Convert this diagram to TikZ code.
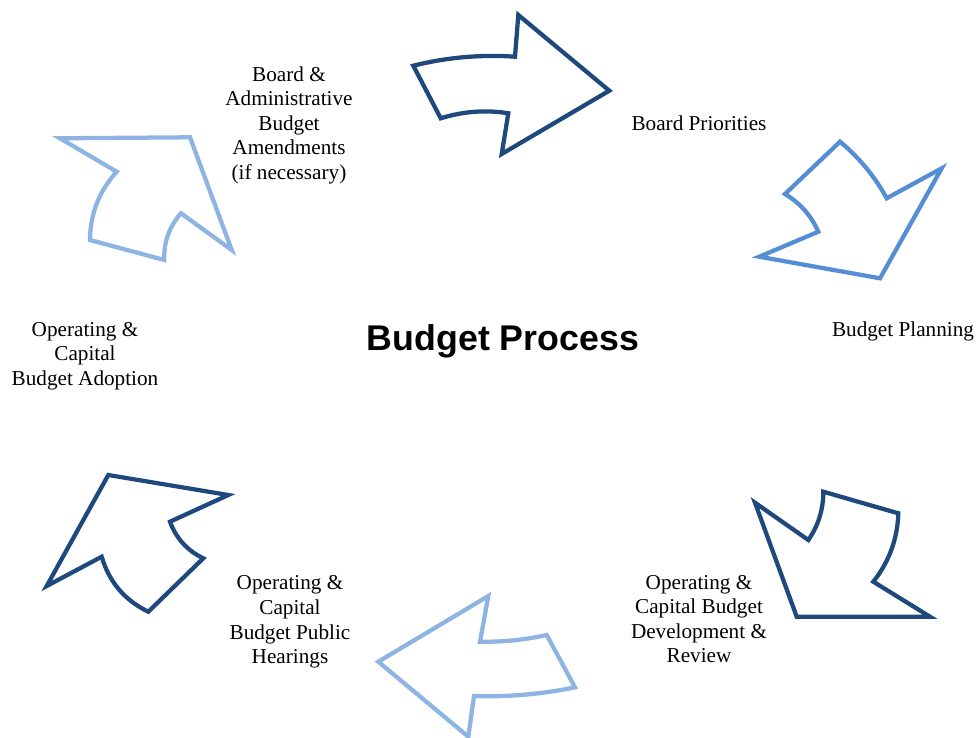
\documentclass[tikz,border=0pt]{standalone}
\usepackage{fontspec}
\usetikzlibrary{calc}
\setmainfont{Liberation Serif}
\newfontfamily\headfont{Liberation Sans}
\definecolor{darkb}{HTML}{1F497D}
\definecolor{midb}{HTML}{558ED5}
\definecolor{lightb}{HTML}{8EB4E3}
% quadratic curve helper: \qc{A}{C}{B} draws from A (current point) to B with control C
\newcommand{\qc}[3]{.. controls ($(#1)!0.6667!(#2)$) and ($(#3)!0.6667!(#2)$) .. (#3)}
\begin{document}
\begin{tikzpicture}[x=0.75pt,y=-0.75pt,
  arr/.style={line width=3.2pt, line join=miter, fill=white},
  lbl/.style={align=center, inner sep=0pt, font=\fontsize{15.9}{18.4}\selectfont}]
\useasboundingbox (0,0) rectangle (977,738);

% arrow 1 (top, dark)
\draw[arr, draw=darkb] (413.3,65.7) \qc{413.3,65.7}{463.4,53.2}{515,56.7}
  -- (518.3,15) -- (609.3,90.7) -- (501.7,154) -- (508.3,113.3)
  \qc{508.3,113.3}{474.5,107.8}{440.7,118.3} -- cycle;

% arrow 2 (right, medium)
\draw[arr, draw=midb] (840,141.7) \qc{840,141.7}{868.7,165.5}{886.7,198.3}
  -- (941.7,168.3) -- (880,278.3) -- (759.3,256.7) -- (818.3,231.7)
  \qc{818.3,231.7}{807.6,207.6}{785,194} -- cycle;

% arrow 3 (bottom right, dark)
\draw[arr, draw=darkb] (755,502.7) -- (808.3,540)
  \qc{808.3,540}{823.4,518.2}{823.3,491.7} -- (898.3,513.3)
  \qc{898.3,513.3}{897.1,551.6}{873.3,581.7} -- (930,616.7)
  -- (796.7,616.7) -- cycle;

% arrow 4 (bottom, light)
\draw[arr, draw=lightb] (378.3,661.7) -- (488.3,596) -- (480,641.7)
  \qc{480,641.7}{513.4,642.3}{546.7,635} -- (575,687.3)
  \qc{575,687.3}{524.5,697.7}{474,696} -- (468.3,736.7) -- cycle;

% arrow 5 (bottom left, dark)
\draw[arr, draw=darkb] (108.3,475) -- (228.3,495) -- (170,521.7)
  \qc{170,521.7}{179.2,546.7}{203.3,558.3} -- (148.3,611.7)
  \qc{148.3,611.7}{112.8,594.6}{101.7,556.7} -- (46.7,586) -- cycle;

% arrow 6 (top left, light)
\draw[arr, draw=lightb] (60,138.3) -- (190,137.3) -- (231.7,250) -- (181,213.3)
  \qc{181,213.3}{163.3,233.3}{164.3,260} -- (90,240)
  \qc{90,240}{90.3,200.8}{116.7,171.7} -- cycle;

\node[lbl] (amend) at (289,125) {Board \&\\Administrative\\Budget\\Amendments\\(if necessary)};
\node[lbl] (prio) at (699,123) {Board Priorities};
\node[lbl] (plan) at (903,331) {Budget Planning};
\node[lbl] (dev) at (699,619) {Operating \&\\Capital Budget\\Development \&\\Review};
\node[lbl] (hear) at (290,622) {Operating \&\\Capital\\Budget Public\\Hearings};
\node[lbl] (adopt) at (85,356) {Operating \&\\Capital\\Budget Adoption};
\node[inner sep=0pt, font=\headfont\bfseries\fontsize{26.8}{30}\selectfont] (title) at (503,341) {Budget Process};
\end{tikzpicture}
\end{document}
